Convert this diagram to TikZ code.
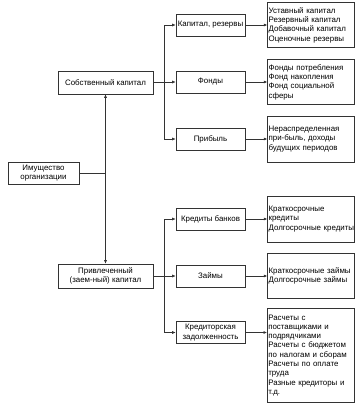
\documentclass[tikz,border=0pt]{standalone}
\usepackage{fontspec}
\setmainfont{Liberation Sans}
\usetikzlibrary{arrows.meta, positioning}
\tikzset{
    box/.style={draw=black!80, line width=0.6pt, fill=white, align=center, inner sep=1pt, font=\fontsize{7.9}{9.3}\selectfont},
    listbox/.style={box, align=left, text width=85pt, minimum height=45pt},
    arrow/.style={-{Latex[length=3.5pt,width=3pt]}, line width=0.6pt, black!80},
    line/.style={line width=0.6pt, black!80}
}

\begin{document}
\begin{tikzpicture}[x=1pt, y=-1pt]
        \useasboundingbox (0,0) rectangle (357,403);
        % left part
        \node [box, minimum width=71pt, minimum height=22pt] (prop) at (43.5,173) {Имущество\\организации};
        \node [box, minimum width=95pt, minimum height=23pt] (own) at (105.5,82.5) {Собственный капитал};
        \node [box, minimum width=95pt, minimum height=24pt] (borrowed) at (105.5,276) {Привлеченный\\(заем-ный) капитал};

        % middle column
        \node [box, minimum width=69pt, minimum height=22pt] (cap) at (210.5,25) {Капитал, резервы};
        \node [box, minimum width=69pt, minimum height=22pt] (fund) at (210.5,82) {Фонды};
        \node [box, minimum width=69pt, minimum height=22pt] (prof) at (210.5,139) {Прибыль};
        \node [box, minimum width=69pt, minimum height=22pt] (cred) at (210.5,219) {Кредиты банков};
        \node [box, minimum width=69pt, minimum height=22pt] (loan) at (210.5,276) {Займы};
        \node [box, minimum width=69pt, minimum height=22pt] (debt) at (210.5,332.5) {Кредиторская\\задолженность};

        % right column
        \node [listbox, right=22pt of cap] (capd) {Уставный капитал\\Резервный капитал\\Добавочный капитал\\Оценочные резервы};
        \node [listbox, right=22pt of fund] (fundd) {Фонды потребления\\Фонд накопления\\Фонд социальной\\сферы};
        \node [listbox, right=22pt of prof, minimum height=46pt] (profd) {Нераспределенная\\при-быль, доходы\\будущих периодов};
        \node [listbox, right=22pt of cred, minimum height=46pt] (credd) {Краткосрочные\\кредиты\\\mbox{Долгосрочные кредиты}};
        \node [listbox, right=22pt of loan] (loand) {Краткосрочные займы\\Долгосрочные займы};
        \node [listbox, anchor=north west, minimum height=94pt] (debtd) at (267,308) {Расчеты с\\поставщиками и\\подрядчиками\\Расчеты с бюджетом\\по налогам и сборам\\Расчеты по оплате\\труда\\Разные кредиторы и\\т.д.};

        % connectors
        \coordinate (j) at (own.south |- prop.east);
        \coordinate (s1) at ([xshift=11pt]own.east);
        \coordinate (s2) at ([xshift=11pt]borrowed.east);
        \draw [line] (prop) -- (j);
        \draw [arrow] (j) -- (own);
        \draw [arrow] (j) -- (borrowed);

        \draw [line] (own) -- (s1);
        \foreach \n in {cap, fund, prof} \draw [arrow] (s1) |- (\n);
        \draw [line] (borrowed) -- (s2);
        \foreach \n in {cred, loan, debt} \draw [arrow] (s2) |- (\n);

        \foreach \a/\b in {cap/capd, fund/fundd, prof/profd, cred/credd, loan/loand, debt/debtd}
            \draw [arrow] (\a.east) -- (\a.east -| \b.west);
    \end{tikzpicture}
\end{document}
